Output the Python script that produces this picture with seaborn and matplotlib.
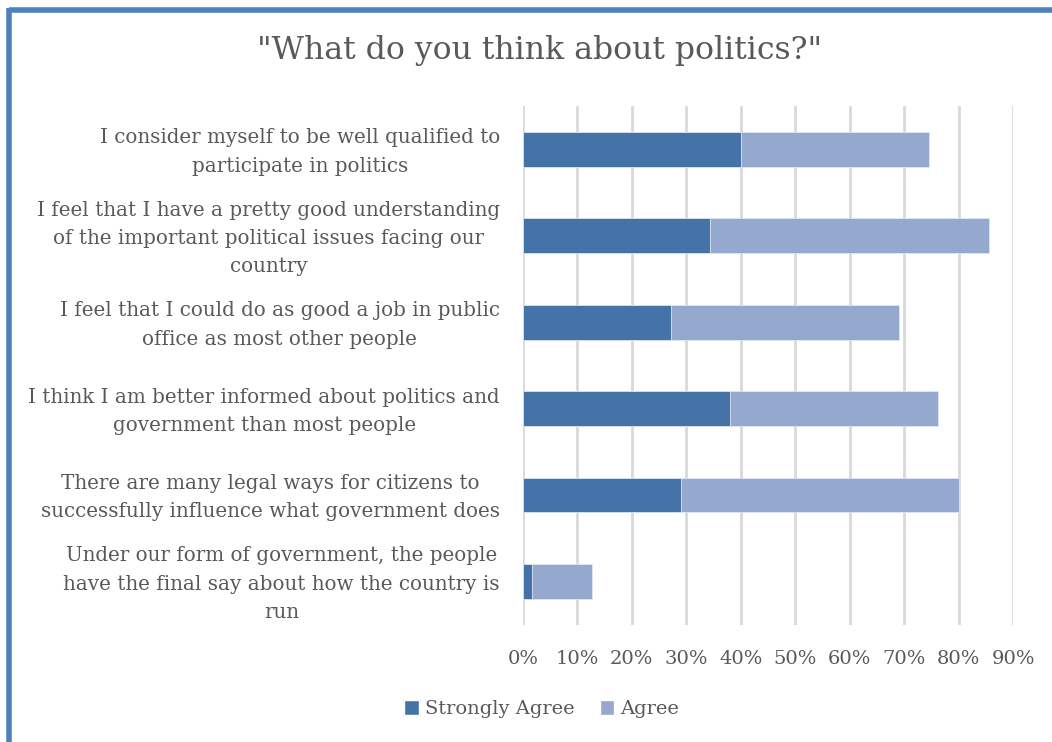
import matplotlib
matplotlib.use("Agg")
import matplotlib.pyplot as plt
import matplotlib.transforms as mtransforms
import seaborn as sns
import pandas as pd
from matplotlib.patches import Patch
from matplotlib.lines import Line2D
from matplotlib.ticker import PercentFormatter

categories = [
    "I consider myself to be well qualified to\nparticipate in politics",
    "I feel that I have a pretty good understanding\nof the important political issues facing our\ncountry",
    "I feel that I could do as good a job in public\noffice as most other people",
    "I think I am better informed about politics and\ngovernment than most people",
    "There are many legal ways for citizens to\nsuccessfully influence what government does",
    "Under our form of government, the people\nhave the final say about how the country is\nrun",
]
strongly_agree = [0.40, 0.344, 0.272, 0.380, 0.290, 0.017]
agree = [0.345, 0.511, 0.419, 0.383, 0.510, 0.110]
series_names = ["Strongly Agree", "Agree"]
x_ticks = [0, 0.1, 0.2, 0.3, 0.4, 0.5, 0.6, 0.7, 0.8, 0.9]

sa_color = "#4573A7"
ag_color = "#95A9CF"
text_color = "#595959"

sns.set_theme(style="white")
plt.rcParams["font.family"] = ["DejaVu Serif"]

df = pd.DataFrame({
    "category": categories,
    "sa": strongly_agree,
    "total": [s + a for s, a in zip(strongly_agree, agree)],
})

fig = plt.figure(figsize=(10.52, 7.42), dpi=100)
ax = fig.add_axes([0.497, 0.158, 0.466, 0.699])

sns.barplot(data=df, y="category", x="total", color=ag_color, width=0.4,
            saturation=1, ax=ax, edgecolor="#dfe6f2", linewidth=0.6, zorder=3)
sns.barplot(data=df, y="category", x="sa", color=sa_color, width=0.4,
            saturation=1, ax=ax, edgecolor="#dfe6f2", linewidth=0.6, zorder=4)

ax.set_xlim(0, 0.9)
ax.set_xticks(x_ticks)
ax.xaxis.set_major_formatter(PercentFormatter(1.0, decimals=0))
ax.grid(axis="x", color="#d9d9d9", linewidth=2.0, zorder=0)
ax.grid(axis="y", visible=False)
for s in ax.spines.values():
    s.set_visible(False)
ax.set_xlabel("")
ax.set_ylabel("")
ax.tick_params(axis="x", length=0, pad=18, labelsize=14, labelcolor=text_color)
ax.tick_params(axis="y", length=0, pad=16.5, labelsize=14.3, labelcolor=text_color)
shift = mtransforms.ScaledTranslation(0, 4 / 100, fig.dpi_scale_trans)
for lab in ax.get_yticklabels():
    lab.set_multialignment("center")
    lab.set_linespacing(1.62)
    lab.set_transform(lab.get_transform() + shift)

fig.text(0.513, 0.932, "\"What do you think about politics?\"", ha="center",
         va="center", fontsize=22.7, color=text_color)

handles = [Patch(facecolor=sa_color), Patch(facecolor=ag_color)]
fig.legend(handles, series_names, loc="center", bbox_to_anchor=(0.515, 0.044),
           ncol=2, frameon=False, fontsize=14, handlelength=0.75, handleheight=0.75,
           handletextpad=0.3, columnspacing=1.3, labelcolor=text_color)

# blue frame on top and left
fig.add_artist(Line2D([0.009, 1.0], [1 - 9.5 / 742, 1 - 9.5 / 742],
                      color="#4F81BD", linewidth=4, transform=fig.transFigure,
                      solid_capstyle="butt"))
fig.add_artist(Line2D([9.5 / 1052, 9.5 / 1052], [0.0, 1 - 7.5 / 742],
                      color="#4F81BD", linewidth=4, transform=fig.transFigure,
                      solid_capstyle="butt"))

fig.savefig("out.png", dpi=100)
